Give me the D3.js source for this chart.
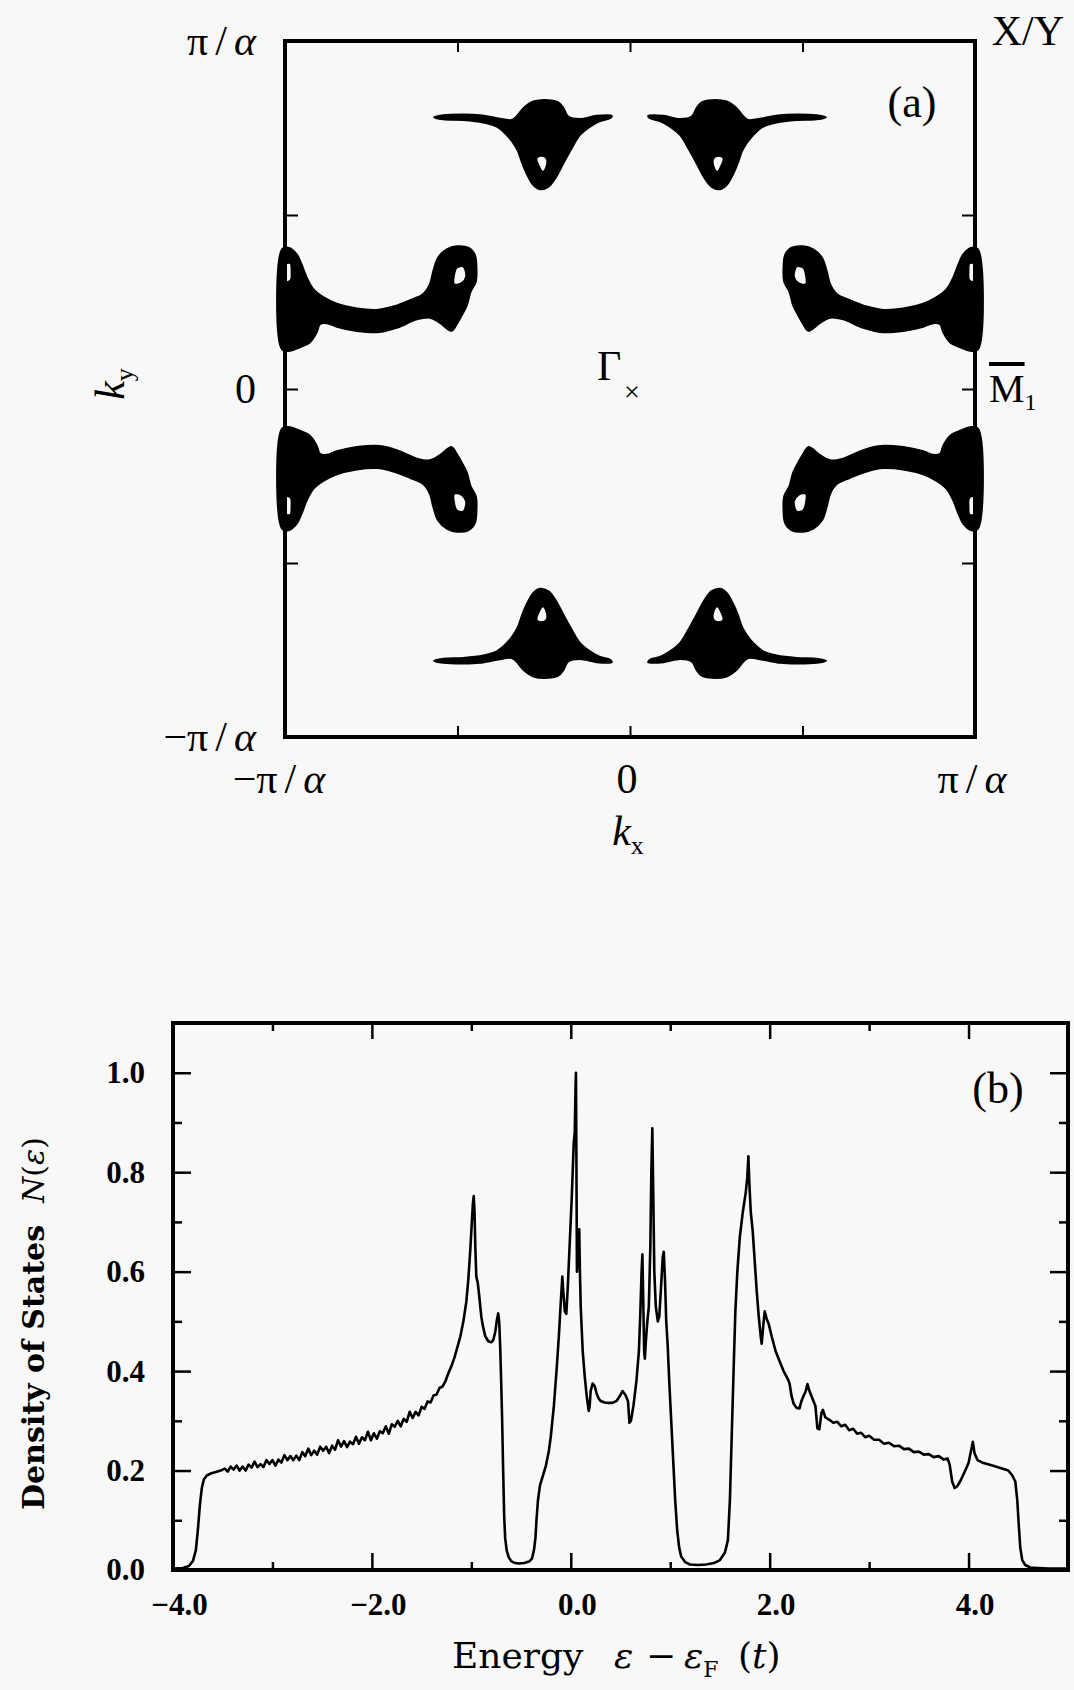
<!DOCTYPE html>
<html>
<head>
<meta charset="utf-8">
<script src="https://cdn.jsdelivr.net/npm/d3@7"></script>
<style>
  body { margin: 0; background: #f8f8f8; }
  svg { display: block; }
</style>
</head>
<body>
<div id="chart"></div>
<script>
// ---------- panel (a): Fermi surface, k in units of pi/a ----------
var kTicks = [-0.5, 0, 0.5];
var kLabelValues = [-1, 0, 1];

// upper-right "bell" pocket (mirrored to the other three quadrants)
var bellOutline = [
  [0.053,0.785],[0.097,0.785],[0.145,0.776],[0.179,0.783],[0.193,0.807],[0.208,0.824],
  [0.237,0.830],[0.280,0.826],[0.309,0.807],[0.329,0.783],[0.343,0.773],[0.386,0.778],
  [0.435,0.787],[0.483,0.789],[0.541,0.787],[0.568,0.781],[0.541,0.775],[0.483,0.773],
  [0.425,0.766],[0.386,0.754],[0.357,0.730],[0.338,0.706],[0.324,0.682],[0.314,0.653],
  [0.300,0.620],[0.280,0.586],[0.261,0.574],[0.237,0.581],[0.217,0.605],[0.193,0.649],
  [0.169,0.692],[0.145,0.730],[0.116,0.754],[0.087,0.770],[0.058,0.778]
];
var bellHole = [[0.242,0.663],[0.256,0.670],[0.271,0.664],[0.266,0.644],[0.253,0.624],[0.242,0.639]];

// upper-right "arc" pocket touching the zone edge
var arcOutline = [
  [0.502,0.410],[0.531,0.401],[0.556,0.378],[0.570,0.339],[0.580,0.301],[0.599,0.273],
  [0.638,0.255],[0.686,0.237],[0.734,0.227],[0.792,0.231],[0.850,0.245],[0.889,0.264],
  [0.918,0.287],[0.937,0.320],[0.952,0.358],[0.966,0.387],[0.990,0.406],[1.008,0.402],
  [1.008,0.113],[0.986,0.110],[0.957,0.120],[0.928,0.134],[0.908,0.163],[0.899,0.186],
  [0.879,0.189],[0.850,0.179],[0.792,0.167],[0.725,0.164],[0.676,0.176],[0.618,0.200],
  [0.580,0.205],[0.551,0.190],[0.517,0.167],[0.502,0.187],[0.488,0.211],[0.473,0.240],
  [0.462,0.280],[0.447,0.308],[0.445,0.347],[0.450,0.386],[0.469,0.406]
];
var arcHoleInner = [[0.483,0.352],[0.502,0.349],[0.510,0.328],[0.510,0.301],[0.488,0.304],[0.475,0.323]];
var arcHoleEdge = [[0.984,0.361],[0.996,0.361],[0.996,0.308],[0.983,0.313],[0.981,0.337]];

var mirrors = [[1,1],[-1,1],[1,-1],[-1,-1]];

// ---------- panel (b): density of states ----------
var eMajor = [-4, -2, 0, 2, 4];
var eMinor = [-3, -1, 1, 3];
var nMajor = [0, 0.2, 0.4, 0.6, 0.8, 1.0];
var nMinor = [0.1, 0.3, 0.5, 0.7, 0.9];

var energy = [
  -4.00,-3.90,-3.84,-3.80,-3.77,-3.75,-3.73,-3.71,-3.69,-3.66,-3.62,-3.57,-3.52,
  -3.48,-3.45,-3.42,-3.39,-3.36,-3.33,-3.30,-3.27,-3.24,-3.21,-3.18,-3.15,-3.12,-3.09,
  -3.06,-3.03,-3.00,-2.97,-2.94,-2.91,-2.88,-2.85,-2.82,-2.79,-2.76,-2.73,-2.70,-2.67,
  -2.64,-2.61,-2.58,-2.55,-2.52,-2.49,-2.46,-2.43,-2.40,-2.37,-2.34,-2.31,-2.28,-2.25,
  -2.22,-2.19,-2.16,-2.13,-2.10,-2.07,-2.04,-2.01,-1.98,-1.95,-1.92,-1.89,-1.86,-1.83,
  -1.80,-1.77,-1.74,-1.71,-1.68,-1.65,-1.62,-1.59,-1.56,-1.53,-1.50,-1.47,-1.44,-1.41,
  -1.38,-1.35,-1.32,-1.29,-1.26,-1.23,-1.20,-1.17,-1.14,-1.11,-1.08,-1.05,-1.03,-1.01,
  -0.995,-0.985,-0.976,-0.968,-0.960,-0.950,-0.935,-0.920,-0.900,-0.886,-0.860,-0.830,
  -0.800,-0.780,-0.760,-0.745,-0.730,-0.720,-0.710,-0.700,-0.690,-0.680,-0.670,-0.660,
  -0.645,-0.625,-0.600,-0.560,-0.520,-0.470,-0.420,-0.390,-0.370,-0.355,-0.345,-0.330,
  -0.310,-0.280,-0.250,-0.220,-0.200,-0.170,-0.140,-0.120,-0.100,-0.085,-0.075,-0.060,
  -0.045,-0.030,-0.010,0.010,0.030,0.040,0.048,0.052,0.056,0.062,0.070,0.078,0.085,
  0.092,0.100,0.120,0.140,0.160,0.180,0.190,0.200,0.220,0.240,0.260,0.280,0.300,0.340,
  0.380,0.420,0.460,0.500,0.520,0.550,0.575,0.590,0.605,0.630,0.660,0.685,0.700,0.712,
  0.720,0.728,0.738,0.745,0.755,0.770,0.785,0.800,0.810,0.820,0.830,0.840,0.855,0.875,
  0.890,0.905,0.925,0.935,0.948,0.960,0.975,0.990,1.010,1.030,1.050,1.070,1.090,1.110,
  1.150,1.200,1.280,1.360,1.440,1.500,1.550,1.580,1.600,1.620,1.640,1.655,1.675,1.700,
  1.730,1.760,1.775,1.786,1.795,1.810,1.830,1.850,1.870,1.890,1.910,1.920,1.935,1.950,
  1.970,1.990,2.020,2.060,2.100,2.140,2.180,2.200,2.220,2.240,2.270,2.300,2.320,2.340,
  2.360,2.380,2.400,2.430,2.460,2.480,2.500,2.520,2.535,2.560,2.600,2.640,2.680,2.720,
  2.760,2.800,2.840,2.880,2.920,2.960,3.000,3.050,3.100,3.150,3.200,3.250,3.300,3.350,
  3.400,3.450,3.500,3.550,3.600,3.650,3.700,3.750,3.790,3.810,3.835,3.860,3.885,3.920,
  3.960,4.000,4.030,4.043,4.060,4.090,4.150,4.240,4.320,4.400,4.440,4.470,4.490,4.505,
  4.520,4.540,4.570,4.620,4.700,4.800,5.000
];
var dos = [
  0.003,0.004,0.008,0.018,0.040,0.080,0.130,0.165,0.182,0.190,0.194,0.197,0.200,
  0.204,0.198,0.208,0.202,0.210,0.200,0.208,0.200,0.212,0.206,0.218,0.207,0.213,0.207,
  0.221,0.213,0.221,0.210,0.222,0.216,0.231,0.221,0.229,0.221,0.230,0.221,0.237,0.229,
  0.244,0.231,0.240,0.232,0.248,0.240,0.248,0.235,0.250,0.242,0.261,0.248,0.259,0.247,
  0.258,0.253,0.268,0.254,0.267,0.261,0.278,0.261,0.275,0.264,0.279,0.275,0.289,0.274,
  0.293,0.288,0.300,0.289,0.304,0.298,0.318,0.306,0.318,0.311,0.328,0.324,0.339,0.337,
  0.351,0.353,0.366,0.369,0.380,0.396,0.410,0.427,0.448,0.470,0.500,0.540,0.585,0.645,
  0.700,0.735,0.752,0.720,0.650,0.590,0.577,0.550,0.510,0.493,0.470,0.460,
  0.458,0.462,0.478,0.500,0.516,0.500,0.450,0.380,0.300,0.200,0.110,0.065,
  0.040,0.026,0.018,0.014,0.013,0.014,0.017,0.023,0.040,0.065,0.100,0.140,
  0.170,0.190,0.210,0.240,0.270,0.330,0.410,0.470,0.540,0.590,0.560,0.520,
  0.515,0.570,0.660,0.750,0.860,0.880,0.970,1.000,0.850,0.600,0.620,0.670,0.685,
  0.600,0.530,0.440,0.390,0.350,0.320,0.330,0.360,0.375,0.370,0.355,0.345,0.340,0.337,
  0.336,0.336,0.340,0.352,0.360,0.352,0.340,0.296,0.300,0.330,0.380,0.440,0.520,0.600,
  0.635,0.550,0.440,0.425,0.460,0.500,0.530,0.650,0.800,0.888,0.750,0.600,0.530,0.500,
  0.510,0.560,0.630,0.640,0.580,0.500,0.450,0.380,0.300,0.220,0.140,0.080,0.045,0.027,
  0.016,0.011,0.010,0.011,0.014,0.020,0.035,0.060,0.140,0.280,0.420,0.520,0.600,0.670,
  0.720,0.760,0.790,0.832,0.780,0.720,0.680,0.620,0.560,0.510,0.470,0.455,0.490,0.520,
  0.505,0.495,0.470,0.440,0.420,0.400,0.385,0.375,0.350,0.335,0.326,0.325,0.340,0.350,
  0.358,0.374,0.360,0.345,0.330,0.285,0.283,0.315,0.322,0.307,0.302,0.296,0.298,0.289,
  0.292,0.281,0.284,0.274,0.276,0.267,0.270,0.262,0.262,0.254,0.256,0.249,0.250,0.243,
  0.244,0.237,0.238,0.232,0.233,0.227,0.229,0.222,0.224,0.212,0.178,0.165,0.168,0.180,
  0.197,0.215,0.245,0.258,0.235,0.221,0.215,0.210,0.205,0.200,0.190,0.178,0.140,0.090,
  0.045,0.020,0.010,0.005,0.004,0.003,0.003
];

// ---------- drawing ----------
var width = 1074, height = 1690;
var serif = '"Liberation Serif", "DejaVu Serif", serif';

var svg = d3.select("#chart").append("svg")
  .attr("width", width)
  .attr("height", height);

svg.append("rect").attr("width", width).attr("height", height).attr("fill", "#f8f8f8");

// ===== panel (a) =====
var kx = d3.scaleLinear().domain([-1, 1]).range([285, 975]);
var ky = d3.scaleLinear().domain([-1, 1]).range([737, 41]);

var pocket = d3.line()
  .x(function(d){ return kx(d[0]); })
  .y(function(d){ return ky(d[1]); })
  .curve(d3.curveCatmullRomClosed.alpha(0.5));

function mirrored(rings, m) {
  return rings.map(function(r){
    return pocket(r.map(function(p){ return [p[0]*m[0], p[1]*m[1]]; }));
  }).join("");
}

var blobs = svg.append("g")
  .attr("fill", "#000").attr("fill-rule", "evenodd")
  .attr("stroke", "#000").attr("stroke-width", 2).attr("stroke-linejoin", "round");
mirrors.forEach(function(m){
  blobs.append("path").attr("d", mirrored([bellOutline, bellHole], m));
  blobs.append("path").attr("d", mirrored([arcOutline, arcHoleInner, arcHoleEdge], m));
});

function noLabels(g) {
  g.select(".domain").remove();
  g.selectAll(".tick line").attr("stroke", "#000").attr("stroke-width", 2);
}
svg.append("g").attr("transform", "translate(0,737)")
  .call(d3.axisBottom(kx).tickValues(kTicks).tickSize(-11).tickFormat("")).call(noLabels);
svg.append("g").attr("transform", "translate(0,41)")
  .call(d3.axisTop(kx).tickValues(kTicks).tickSize(-11).tickFormat("")).call(noLabels);
svg.append("g").attr("transform", "translate(285,0)")
  .call(d3.axisLeft(ky).tickValues(kTicks).tickSize(-13).tickFormat("")).call(noLabels);
svg.append("g").attr("transform", "translate(975,0)")
  .call(d3.axisRight(ky).tickValues(kTicks).tickSize(-13).tickFormat("")).call(noLabels);

svg.append("rect")
  .attr("x", kx(-1)).attr("y", ky(1))
  .attr("width", kx(1) - kx(-1)).attr("height", ky(-1) - ky(1))
  .attr("fill", "none").attr("stroke", "#000").attr("stroke-width", 4);

function piLabel(t, v) {
  if (v === 0) { t.text("0"); return; }
  t.append("tspan").text((v < 0 ? "\u2212" : "") + "\u03c0");
  t.append("tspan").attr("dx", 7).text("/");
  t.append("tspan").attr("dx", 7).attr("font-style", "italic").text("\u03b1");
}

// left tick labels
kLabelValues.forEach(function(v){
  var t = svg.append("text")
    .attr("x", kx(-1) - 29).attr("y", ky(v)).attr("dy", "0.33em")
    .attr("text-anchor", "end")
    .attr("font-family", serif).attr("font-size", 42);
  piLabel(t, v);
});
// bottom tick labels
kLabelValues.forEach(function(v){
  var t = svg.append("text")
    .attr("x", kx(v) + (v === -1 ? -6 : -3)).attr("y", 793)
    .attr("text-anchor", "middle")
    .attr("font-family", serif).attr("font-size", 42);
  piLabel(t, v);
});

// axis titles k_x, k_y
var kxLab = svg.append("text")
  .attr("x", 628).attr("y", 845).attr("text-anchor", "middle")
  .attr("font-family", serif).attr("font-size", 42);
kxLab.append("tspan").attr("font-style", "italic").text("k");
kxLab.append("tspan").attr("font-size", 26).attr("dy", 9).text("x");

var kyLab = svg.append("text")
  .attr("transform", "translate(124,384) rotate(-90)").attr("text-anchor", "middle")
  .attr("font-family", serif).attr("font-size", 42);
kyLab.append("tspan").attr("font-style", "italic").text("k");
kyLab.append("tspan").attr("font-size", 26).attr("dy", 9).text("y");

// symmetry point labels
svg.append("text").attr("x", 597).attr("y", 380)
  .attr("font-family", serif).attr("font-size", 42).text("\u0393");
svg.append("text").attr("x", kx(0) + 2).attr("y", ky(0) + 2)
  .attr("text-anchor", "middle").attr("dominant-baseline", "central")
  .attr("font-family", serif).attr("font-size", 28).text("\u00d7");

var mLab = svg.append("text").attr("x", 989).attr("y", 402)
  .attr("font-family", serif).attr("font-size", 40);
mLab.append("tspan").attr("text-decoration", "overline").text("M");
mLab.append("tspan").attr("font-size", 24).attr("dy", 8).text("1");

svg.append("text").attr("x", 1064).attr("y", 45).attr("text-anchor", "end")
  .attr("font-family", serif).attr("font-size", 42).text("X/Y");
svg.append("text").attr("x", 912).attr("y", 117).attr("text-anchor", "middle")
  .attr("font-family", serif).attr("font-size", 44).text("(a)");

// ===== panel (b) =====
var ex = d3.scaleLinear().domain([-4, 5]).range([173, 1068]);
var ny = d3.scaleLinear().domain([0, 1.1]).range([1570, 1023]);
var fmt = d3.format(".1f");

function styleAxis(g) {
  g.select(".domain").remove();
  g.selectAll(".tick line").attr("stroke", "#000").attr("stroke-width", 2.5);
  g.attr("font-family", serif).attr("font-size", 31).attr("font-weight", "bold");
  g.selectAll(".tick text").attr("fill", "#000");
}

svg.append("g").attr("transform", "translate(0,1570)")
  .call(d3.axisBottom(ex).tickValues(eMajor).tickSize(-17).tickPadding(23).tickFormat(fmt))
  .call(styleAxis)
  .selectAll(".tick text").attr("dx", 6);
svg.append("g").attr("transform", "translate(0,1570)")
  .call(d3.axisBottom(ex).tickValues(eMinor).tickSize(-8).tickFormat("")).call(styleAxis);
svg.append("g").attr("transform", "translate(0,1023)")
  .call(d3.axisTop(ex).tickValues(eMajor).tickSize(-16).tickFormat("")).call(styleAxis);
svg.append("g").attr("transform", "translate(0,1023)")
  .call(d3.axisTop(ex).tickValues(eMinor).tickSize(-8).tickFormat("")).call(styleAxis);

svg.append("g").attr("transform", "translate(173,0)")
  .call(d3.axisLeft(ny).tickValues(nMajor).tickSize(-18).tickPadding(28).tickFormat(fmt))
  .call(styleAxis);
svg.append("g").attr("transform", "translate(173,0)")
  .call(d3.axisLeft(ny).tickValues(nMinor).tickSize(-9).tickFormat("")).call(styleAxis);
svg.append("g").attr("transform", "translate(1068,0)")
  .call(d3.axisRight(ny).tickValues(nMajor).tickSize(-18).tickFormat("")).call(styleAxis);
svg.append("g").attr("transform", "translate(1068,0)")
  .call(d3.axisRight(ny).tickValues(nMinor).tickSize(-9).tickFormat("")).call(styleAxis);

var dosLine = d3.line()
  .x(function(d, i){ return ex(energy[i]); })
  .y(function(d){ return ny(d); });

svg.append("path")
  .attr("d", dosLine(dos))
  .attr("fill", "none").attr("stroke", "#000")
  .attr("stroke-width", 2.6).attr("stroke-linejoin", "round");

svg.append("rect")
  .attr("x", ex(-4)).attr("y", ny(1.1))
  .attr("width", ex(5) - ex(-4)).attr("height", ny(0) - ny(1.1))
  .attr("fill", "none").attr("stroke", "#000").attr("stroke-width", 4);

svg.append("text").attr("x", 998).attr("y", 1103).attr("text-anchor", "middle")
  .attr("font-family", serif).attr("font-size", 44).text("(b)");

// x title
var xt = svg.append("text").attr("y", 1668)
  .attr("font-family", '"DejaVu Serif", serif').attr("font-size", 36);
xt.append("tspan").attr("x", 452).text("Energy");
xt.append("tspan").attr("x", 614).attr("font-style", "italic").text("\u03b5");
xt.append("tspan").attr("x", 646).text("\u2212");
xt.append("tspan").attr("x", 684).attr("font-style", "italic").text("\u03b5");
xt.append("tspan").attr("font-size", 22).attr("dy", 9).text("F");
xt.append("tspan").attr("x", 738).attr("dy", -9).text("(");
xt.append("tspan").attr("font-style", "italic").text("t");
xt.append("tspan").text(")");

// y title
var yt = svg.append("text")
  .attr("transform", "translate(44,1510) rotate(-90)")
  .attr("font-family", '"DejaVu Serif", serif').attr("font-size", 30).attr("font-weight", "bold");
yt.append("tspan").text("Density of States");
yt.append("tspan").attr("dx", 22).attr("font-style", "italic").attr("font-weight", "normal").text("N");
yt.append("tspan").attr("font-weight", "normal").text("(");
yt.append("tspan").attr("font-style", "italic").attr("font-weight", "normal").text("\u03b5");
yt.append("tspan").attr("font-weight", "normal").text(")");
</script>
</body>
</html>
